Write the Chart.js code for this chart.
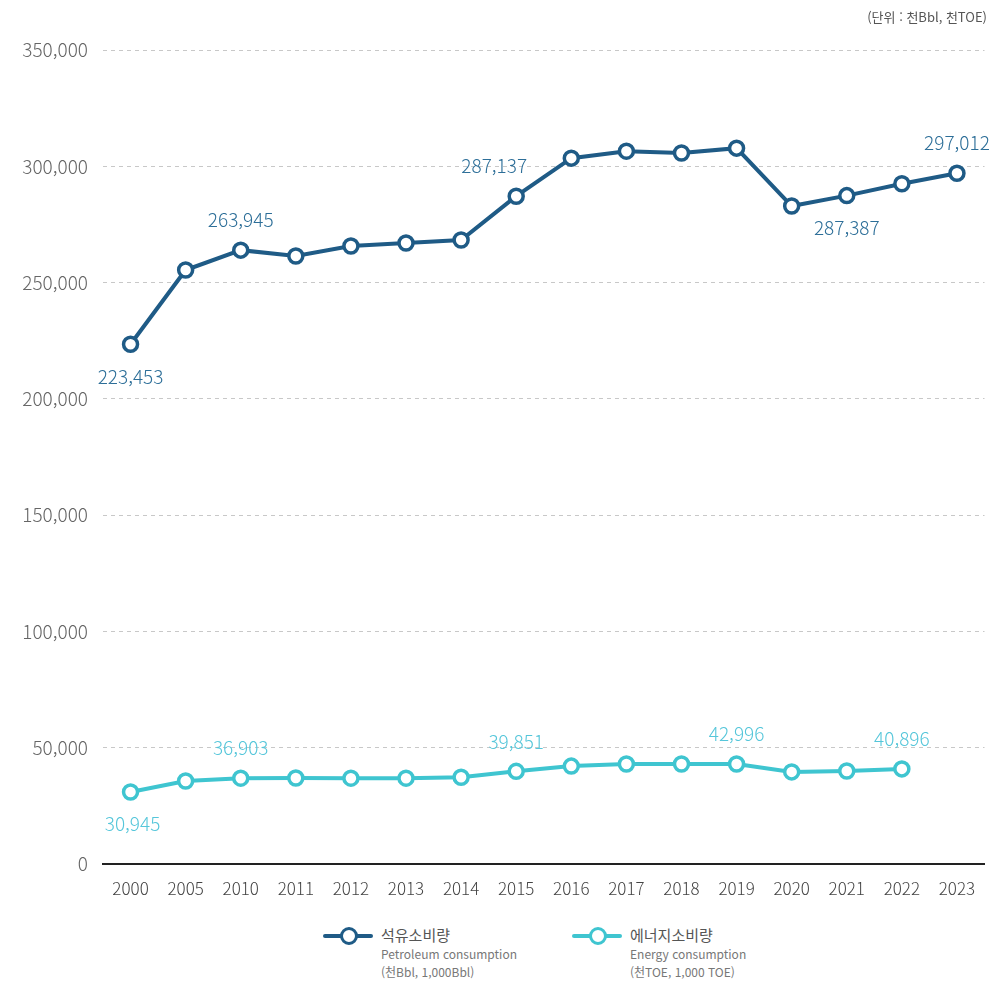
<!DOCTYPE html>
<html lang="ko">
<head>
<meta charset="utf-8">
<script src="https://cdn.jsdelivr.net/npm/chart.js@4.4.1/dist/chart.umd.min.js"></script>
<style>
  html, body { margin:0; padding:0; background:#fff; }
  body { width:995px; height:994px; position:relative; overflow:hidden; font-family:'Noto Sans CJK KR', 'Noto Sans', sans-serif; }
  #wrap { position:absolute; left:0; top:0; width:995px; height:915px; }
  .unit { position:absolute; right:8px; top:7px; font-size:13px; color:#555; }
  .legend { position:absolute; top:928px; left:0; width:995px; }
  .lg-item { position:absolute; top:0; }
  .lg-mark { position:absolute; top:6px; width:50px; height:4px; border-radius:2px; }
  .lg-mark span { position:absolute; left:17px; top:-7px; width:12px; height:12px; border-radius:50%; background:#fff; border:3px solid; box-sizing:content-box; }
  .lg-text { position:absolute; left:58px; top:-3px; white-space:nowrap; color:#666; }
  .lg-text b { font-weight:400; font-size:15px; color:#555; display:block; line-height:20px; }
  .lg-text i { font-style:normal; font-size:12px; display:block; line-height:18px; color:#777; }
</style>
</head>
<body>
<div id="wrap"><canvas id="chart"></canvas></div>
<div class="unit">(단위 : 천Bbl, 천TOE)</div>
<div class="legend">
  <div class="lg-item" style="left:323px">
    <div class="lg-mark" style="background:#1f5b86"><span style="border-color:#1f5b86"></span></div>
    <div class="lg-text"><b>석유소비량</b><i>Petroleum consumption</i><i>(천Bbl, 1,000Bbl)</i></div>
  </div>
  <div class="lg-item" style="left:572px">
    <div class="lg-mark" style="background:#3fc5d0"><span style="border-color:#3fc5d0"></span></div>
    <div class="lg-text"><b>에너지소비량</b><i>Energy consumption</i><i>(천TOE, 1,000 TOE)</i></div>
  </div>
</div>
<script>
// 연도
var years = ['2000','2005','2010','2011','2012','2013','2014','2015','2016','2017','2018','2019','2020','2021','2022','2023'];

// 석유소비량 (천Bbl)
var petroleum = [223453, 255400, 263945, 261400, 265700, 267000, 268300, 287137, 303500, 306500, 305700, 307800, 282900, 287387, 292500, 297012];

// 에너지소비량 (천TOE)
var energy = [30945, 35700, 36903, 37000, 36900, 36900, 37300, 39851, 42100, 43000, 43000, 42996, 39600, 40000, 40896, null];

// 값 표시할 포인트 (index, 위/아래, x 보정)
var petroLabels = [[0,'below',0],[2,'above',0],[7,'above',-22],[13,'below',0],[15,'above',0]];
var energyLabels = [[0,'below',2],[2,'above',0],[7,'above',0],[11,'above',0],[14,'above',0]];

var yTicks = [0, 50000, 100000, 150000, 200000, 250000, 300000, 350000];

var PETRO = '#1f5b86', PETRO_TXT = '#2c6e98';
var ENERGY = '#3fc5d0', ENERGY_TXT = '#55c6da';
var NUM_FONT = '"Noto Sans CJK KR", sans-serif';

/* ----------------------------------------------------------
   value labels plugin
   ---------------------------------------------------------- */
var valueLabelPlugin = {
  id: 'valueLabels',
  afterDatasetsDraw: function(chart) {
    var ctx = chart.ctx;
    var sets = [[0, petroLabels, PETRO_TXT], [1, energyLabels, ENERGY_TXT]];
    ctx.save();
    ctx.font = '300 19px ' + NUM_FONT;
    ctx.textAlign = 'center';
    ctx.textBaseline = 'middle';
    sets.forEach(function(s) {
      var meta = chart.getDatasetMeta(s[0]);
      var data = chart.data.datasets[s[0]].data;
      ctx.fillStyle = s[2];
      s[1].forEach(function(l) {
        var pt = meta.data[l[0]];
        var dy = l[1] === 'above' ? -30 : 32;
        ctx.fillText(data[l[0]].toLocaleString('en-US'), pt.x + l[2], pt.y + dy);
      });
    });
    ctx.restore();
  }
};

function makeSet(label, data, color) {
  return {
    label: label, data: data,
    borderColor: color, backgroundColor: '#fff',
    borderWidth: 4, tension: 0,
    pointRadius: 7, pointHoverRadius: 7,
    pointBorderWidth: 3.5, pointBackgroundColor: '#fff', pointBorderColor: color
  };
}

new Chart(document.getElementById('chart'), {
  type: 'line',
  data: {
    labels: years,
    datasets: [
      makeSet('석유소비량', petroleum, PETRO),
      makeSet('에너지소비량', energy, ENERGY)
    ]
  },
  options: {
    responsive: true, maintainAspectRatio: false, animation: false,
    layout: { padding: { top: 50, right: 7, bottom: 0, left: 0 } },
    plugins: { legend: { display: false }, tooltip: { enabled: false } },
    scales: {
      x: {
        offset: true,
        grid: { display: false, drawTicks: false },
        border: { display: true, color: '#222', width: 2 },
        ticks: { color: '#444', padding: 14, font: { size: 17, weight: 300, family: NUM_FONT } },
        afterFit: function(s) { s.height = 51; }
      },
      y: {
        min: 0, max: 350000,
        afterBuildTicks: function(s) { s.ticks = yTicks.map(function(v) { return { value: v }; }); },
        grid: { color: '#c8c8c8', drawTicks: false, lineWidth: function(c) { return c.tick.value === 0 ? 0 : 1; } },
        border: { display: false, dash: [4, 4] },
        ticks: {
          color: '#666', padding: 15,
          font: { size: 19, weight: 300, family: NUM_FONT },
          callback: function(v) { return v.toLocaleString('en-US'); }
        },
        afterFit: function(s) { s.width = 103; }
      }
    }
  },
  plugins: [valueLabelPlugin]
});
</script>
</body>
</html>
